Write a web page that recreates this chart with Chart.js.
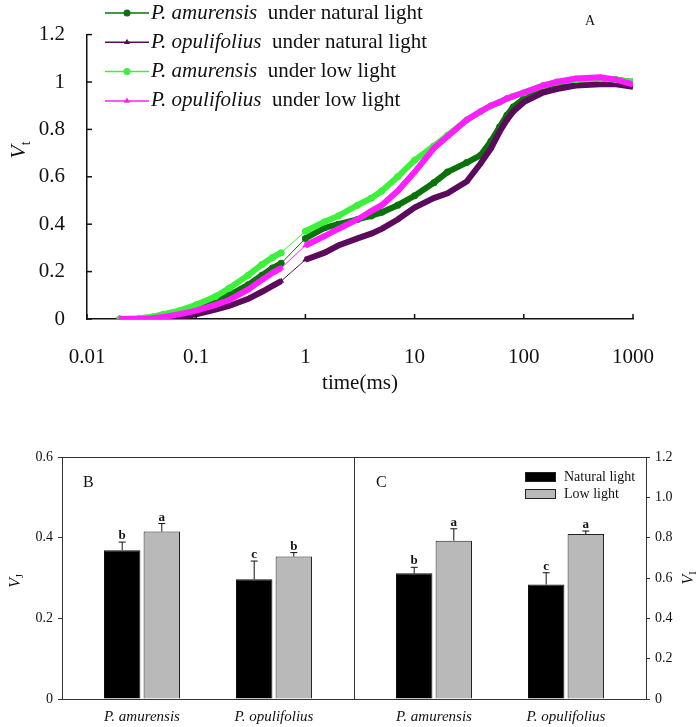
<!DOCTYPE html>
<html>
<head>
<meta charset="utf-8">
<script src="https://cdn.jsdelivr.net/npm/chart.js@4.4.1/dist/chart.umd.min.js"></script>
<style>
  body { margin: 0; background: #fff; width: 699px; height: 727px; position: relative; overflow: hidden; }
  canvas { position: absolute; }
  #cA { left: 0; top: 0; }
  #cB { left: 0; top: 440px; }
  #cC { left: 340px; top: 440px; }
</style>
</head>
<body>
<canvas id="cA" width="699" height="400"></canvas>
<canvas id="cB" width="360" height="287"></canvas>
<canvas id="cC" width="359" height="287"></canvas>
<script>
// panel A: OJIP transients (time in ms, relative variable fluorescence Vt)
const times = [0.02, 0.03, 0.04, 0.05, 0.07, 0.1, 0.15, 0.2, 0.3, 0.4, 0.5, 0.6,
  1, 1.5, 2, 3, 4, 5, 7, 10, 15, 20, 30, 40, 50, 60, 70, 80, 100, 150, 200, 300, 500, 700, 1000];
const amurNatural = [0, 0, 0.005, 0.01, 0.025, 0.045, 0.075, 0.10, 0.145, 0.185, 0.215, 0.235,
  0.34, 0.385, 0.40, 0.42, 0.435, 0.45, 0.48, 0.52, 0.575, 0.62, 0.66, 0.69, 0.75, 0.81, 0.86, 0.895, 0.93, 0.96, 0.975, 0.995, 1.01, 1.01, 1.0];
const opulNatural = [0, 0, 0, 0.002, 0.008, 0.02, 0.04, 0.055, 0.085, 0.115, 0.14, 0.16,
  0.25, 0.28, 0.31, 0.34, 0.36, 0.38, 0.42, 0.47, 0.51, 0.53, 0.58, 0.655, 0.72, 0.79, 0.84, 0.875, 0.915, 0.955, 0.97, 0.985, 0.99, 0.99, 0.98];
const amurLow = [0, 0.003, 0.01, 0.02, 0.035, 0.06, 0.095, 0.13, 0.185, 0.23, 0.26, 0.28,
  0.37, 0.41, 0.435, 0.48, 0.51, 0.54, 0.60, 0.67, 0.73, 0.775, 0.84, 0.875, 0.90, 0.915, 0.93, 0.94, 0.955, 0.985, 1.0, 1.01, 1.015, 1.01, 1.0];
const opulLow = [0, 0, 0.003, 0.008, 0.02, 0.035, 0.06, 0.08, 0.125, 0.165, 0.195, 0.215,
  0.31, 0.35, 0.38, 0.42, 0.455, 0.48, 0.54, 0.62, 0.72, 0.77, 0.84, 0.875, 0.90, 0.915, 0.93, 0.94, 0.955, 0.985, 1.0, 1.015, 1.02, 1.01, 0.99];
const xTicksA = [0.01, 0.1, 1, 10, 100, 1000];
const yTicksA = [0, 0.2, 0.4, 0.6, 0.8, 1, 1.2];

// panels B and C
const species = ['P. amurensis', 'P. opulifolius'];
const vjNatural = [0.369, 0.297];
const vjNaturalErr = [0.02, 0.045];
const vjLow = [0.415, 0.353];
const vjLowErr = [0.02, 0.01];
const vjLettersNatural = ['b', 'c'];
const vjLettersLow = ['a', 'b'];
const viNatural = [0.623, 0.568];
const viNaturalErr = [0.03, 0.058];
const viLow = [0.785, 0.818];
const viLowErr = [0.059, 0.015];
const viLettersNatural = ['b', 'c'];
const viLettersLow = ['a', 'a'];
const yTicksB = [0, 0.2, 0.4, 0.6];
const yTicksC = [0, 0.2, 0.4, 0.6, 0.8, 1.0, 1.2];

const serif = '"Liberation Serif", "Times New Roman", serif';

function pts(arr) {
  return times.map((t, i) => ({ x: t, y: arr[i] }));
}

// the gap between 0.6 ms and 1 ms is only a thin joining line
const gapWidth = ctx => (ctx.p0.parsed.x < 0.7 && ctx.p1.parsed.x > 0.9) ? 1 : 6;

function lineSet(label, arr, color, style) {
  return {
    label: label,
    data: pts(arr),
    borderColor: color,
    backgroundColor: color,
    borderWidth: 6,
    pointRadius: 3.5,
    pointBorderWidth: 0,
    pointStyle: style,
    tension: 0,
    segment: { borderWidth: gapWidth }
  };
}

// subscripted, rotated axis title (V with a small subscript)
function rotatedTitle(ctx, x, y, main, sub, size) {
  ctx.save();
  ctx.translate(x, y);
  ctx.rotate(-Math.PI / 2);
  ctx.fillStyle = '#111';
  ctx.textBaseline = 'alphabetic';
  ctx.font = 'italic ' + size + 'px ' + serif;
  const w = ctx.measureText(main).width;
  ctx.font = Math.round(size * 0.62) + 'px ' + serif;
  const ws = ctx.measureText(sub).width;
  const start = -(w + ws) / 2;
  ctx.font = 'italic ' + size + 'px ' + serif;
  ctx.fillText(main, start, size * 0.35);
  ctx.font = Math.round(size * 0.62) + 'px ' + serif;
  ctx.fillText(sub, start + w, size * 0.35 + size * 0.22);
  ctx.restore();
}

const legendA = [
  { sp: 'P. amurensis', cond: 'under natural light', color: '#0a720a', style: 'circle' },
  { sp: 'P. opulifolius', cond: 'under natural light', color: '#5c0a5c', style: 'triangle' },
  { sp: 'P. amurensis', cond: 'under low light', color: '#3cf03c', style: 'circle' },
  { sp: 'P. opulifolius', cond: 'under low light', color: '#ff1eff', style: 'triangle' }
];

const panelAExtras = {
  id: 'panelAExtras',
  afterDraw(chart) {
    const { ctx, chartArea } = chart;
    const xs = chart.scales.x, ys = chart.scales.y;
    ctx.save();
    ctx.strokeStyle = '#111';
    ctx.lineWidth = 1.5;
    // inside tick marks
    yTicksA.forEach(v => {
      const y = ys.getPixelForValue(v);
      ctx.beginPath(); ctx.moveTo(chartArea.left, y); ctx.lineTo(chartArea.left + 5, y); ctx.stroke();
    });
    xTicksA.forEach(v => {
      const x = xs.getPixelForValue(v);
      ctx.beginPath(); ctx.moveTo(x, chartArea.bottom); ctx.lineTo(x, chartArea.bottom - 5); ctx.stroke();
    });
    // legend
    legendA.forEach((it, i) => {
      const y = 13 + i * 29.3;
      ctx.strokeStyle = it.color;
      ctx.fillStyle = it.color;
      ctx.lineWidth = 1.5;
      ctx.beginPath(); ctx.moveTo(105, y); ctx.lineTo(149, y); ctx.stroke();
      Chart.helpers.drawPoint(ctx, { pointStyle: it.style, radius: 3.5, borderWidth: 0 }, 127, y);
      ctx.fillStyle = '#111';
      ctx.textBaseline = 'middle';
      ctx.font = 'italic 21px ' + serif;
      ctx.fillText(it.sp, 151, y);
      const w = ctx.measureText(it.sp + '  ').width;
      ctx.font = '21px ' + serif;
      ctx.fillText(it.cond, 151 + w, y);
    });
    ctx.font = '14px ' + serif;
    ctx.fillStyle = '#111';
    ctx.textAlign = 'center';
    ctx.fillText('A', 590, 21);
    ctx.restore();
    rotatedTitle(ctx, 17, 150, 'V', 't', 22);
  }
};

new Chart(document.getElementById('cA'), {
  type: 'line',
  data: {
    datasets: [
      lineSet('P. opulifolius under low light', opulLow, '#ff1eff', 'triangle'),
      lineSet('P. amurensis under low light', amurLow, '#3cf03c', 'circle'),
      lineSet('P. opulifolius under natural light', opulNatural, '#5c0a5c', 'triangle'),
      lineSet('P. amurensis under natural light', amurNatural, '#0a720a', 'circle')
    ]
  },
  options: {
    responsive: false,
    animation: false,
    layout: { padding: { top: 17, right: 66, left: 0, bottom: 0 } },
    plugins: { legend: { display: false }, tooltip: { enabled: false } },
    scales: {
      x: {
        type: 'logarithmic',
        min: 0.01,
        max: 1000,
        afterBuildTicks: s => { s.ticks = xTicksA.map(v => ({ value: v })); },
        afterFit: s => { s.height = 81; },
        grid: { display: false, drawTicks: false },
        border: { display: true, color: '#111', width: 1.5 },
        ticks: { color: '#111', font: { family: serif, size: 21 }, padding: 26, maxRotation: 0,
          callback: v => String(v) },
        title: { display: true, text: 'time(ms)', color: '#111', font: { family: serif, size: 21 },
          padding: { top: 0, bottom: 4 } }
      },
      y: {
        min: 0,
        max: 1.2,
        afterBuildTicks: s => { s.ticks = yTicksA.map(v => ({ value: v })); },
        afterFit: s => { s.width = 87; },
        grid: { display: false, drawTicks: false },
        border: { display: true, color: '#111', width: 1.5 },
        ticks: { color: '#111', font: { family: serif, size: 21 }, padding: 22,
          callback: v => String(+v.toFixed(1)) }
      }
    }
  },
  plugins: [panelAExtras]
});

// bar panels
function errorBars(errs, letters) {
  return {
    id: 'errorBars',
    afterDatasetsDraw(chart) {
      const { ctx } = chart;
      const ys = chart.scales.y;
      ctx.save();
      chart.data.datasets.forEach((ds, di) => {
        const meta = chart.getDatasetMeta(di);
        meta.data.forEach((bar, i) => {
          const top = ys.getPixelForValue(ds.data[i].y + errs[di][i]);
          ctx.strokeStyle = '#111';
          ctx.lineWidth = 1;
          ctx.beginPath();
          ctx.moveTo(bar.x, bar.y); ctx.lineTo(bar.x, top);
          ctx.moveTo(bar.x - 3.5, top); ctx.lineTo(bar.x + 3.5, top);
          ctx.stroke();
          ctx.fillStyle = '#111';
          ctx.font = 'bold 13px ' + serif;
          ctx.textAlign = 'center';
          ctx.textBaseline = 'alphabetic';
          ctx.fillText(letters[di][i], bar.x, top - 3);
        });
      });
      ctx.restore();
    }
  };
}

function frameAndText(panel, legend, titleSide) {
  return {
    id: 'frame' + panel,
    afterDraw(chart) {
      const { ctx, chartArea } = chart;
      ctx.save();
      ctx.strokeStyle = '#333';
      ctx.lineWidth = 1;
      ctx.strokeRect(chartArea.left + 0.5, chartArea.top + 0.5, chartArea.width, chartArea.height);
      ctx.fillStyle = '#111';
      ctx.font = '16px ' + serif;
      ctx.textBaseline = 'middle';
      ctx.fillText(panel, chartArea.left + (panel === 'B' ? 21 : 22), chartArea.top + 26);
      if (legend) {
        const bx = chartArea.left + 171;
        [['Natural light', '#000'], ['Low light', '#b9b9b9']].forEach((it, i) => {
          const by = chartArea.top + 15 + i * 17;
          ctx.fillStyle = it[1];
          ctx.fillRect(bx, by, 31, 10);
          ctx.strokeStyle = '#222';
          ctx.strokeRect(bx + 0.5, by + 0.5, 30, 9);
          ctx.fillStyle = '#111';
          ctx.font = '14px ' + serif;
          ctx.fillText(it[0], bx + 39, by + 5);
        });
      }
      ctx.restore();
      if (titleSide === 'left') rotatedTitle(ctx, 14, chartArea.top + 124, 'V', 'J', 16);
      else rotatedTitle(ctx, chartArea.right + 41, chartArea.top + 121, 'V', 'I', 16);
    }
  };
}

function barChart(id, nat, low, natErr, lowErr, natLetters, lowLetters, yMax, yTicks, side, panel) {
  const isLeft = side === 'left';
  return new Chart(document.getElementById(id), {
    type: 'bar',
    data: {
      datasets: [
        { label: 'Natural light', data: nat.map((v, i) => ({ x: i, y: v })),
          backgroundColor: '#000', borderColor: '#111', borderWidth: 1 },
        { label: 'Low light', data: low.map((v, i) => ({ x: i, y: v })),
          backgroundColor: '#b9b9b9', borderColor: '#222', borderWidth: 1 }
      ]
    },
    options: {
      responsive: false,
      animation: false,
      categoryPercentage: 0.6,
      barPercentage: 0.92,
      layout: { padding: isLeft ? { top: 17, left: 0, right: 6, bottom: 0 } : { top: 17, left: 14, right: 0, bottom: 0 } },
      plugins: { legend: { display: false }, tooltip: { enabled: false } },
      scales: {
        x: {
          type: 'linear',
          offset: false,
          min: -0.606,
          max: 1.606,
          afterBuildTicks: s => { s.ticks = species.map((v, i) => ({ value: i })); },
          afterFit: s => { s.height = 28; },
          grid: { display: false, drawTicks: false, offset: false },
          border: { display: false },
          ticks: { color: '#111', font: { family: serif, size: 15, style: 'italic' }, padding: 9, maxRotation: 0,
            callback: v => species[v] }
        },
        y: {
          position: side,
          min: 0,
          max: yMax,
          afterBuildTicks: s => { s.ticks = yTicks.map(v => ({ value: v })); },
          afterFit: s => { s.width = isLeft ? 62 : 53; },
          grid: { display: true, drawOnChartArea: false, drawTicks: true, tickLength: 4, color: '#333' },
          border: { display: false },
          ticks: { color: '#111', font: { family: serif, size: 14 }, padding: 5,
            callback: v => v === 0 ? '0' : v.toFixed(1) }
        }
      }
    },
    plugins: [errorBars([natErr, lowErr], [natLetters, lowLetters]), frameAndText(panel, !isLeft, side)]
  });
}

barChart('cB', vjNatural, vjLow, vjNaturalErr, vjLowErr, vjLettersNatural, vjLettersLow, 0.6, yTicksB, 'left', 'B');
barChart('cC', viNatural, viLow, viNaturalErr, viLowErr, viLettersNatural, viLettersLow, 1.2, yTicksC, 'right', 'C');
</script>
</body>
</html>
